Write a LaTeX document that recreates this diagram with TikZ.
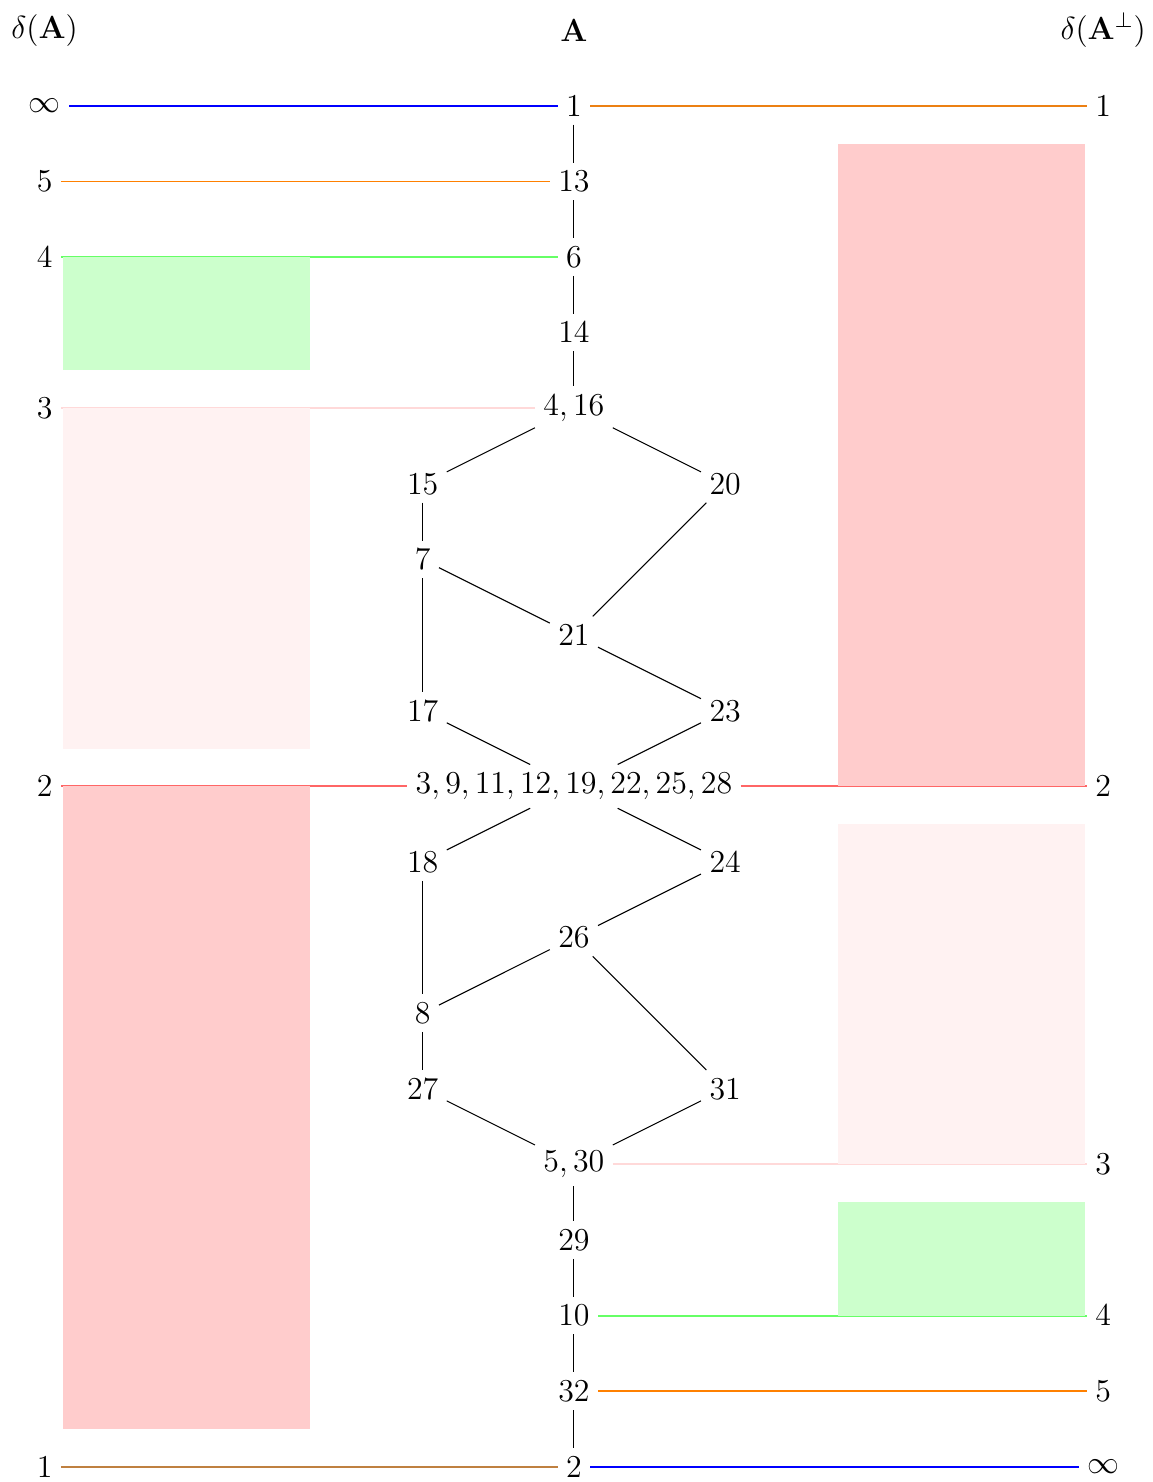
\documentclass[tikz,border=0pt]{standalone}
\usepackage{amsmath,amssymb}
\usepackage{xcolor}
\usepackage{tikz}
\usetikzlibrary{positioning}

\begin{document}
\begin{tikzpicture}[
    elem/.style={font=\large, inner sep=3pt},
    deg/.style={font=\large, inner sep=3pt},
    edge/.style={draw=black, thin},
    link/.style={draw=#1, line width=0.7pt}
]
    \useasboundingbox (-7.59,-0.2) rectangle (7.65,19.4);

    % Headers
    \node [deg] (hleft) at (-7,19) {$\delta(\mathbf{A})$};
    \node [deg] (hmid) at (0,19) {$\mathbf{A}$};
    \node [deg] (hright) at (7,19) {$\delta(\mathbf{A}^{\perp})$};

    % Lattice of A
    \node [elem] (n1) at (0,18) {$1$};
    \node [elem] (n13) at (0,17) {$13$};
    \node [elem] (n6) at (0,16) {$6$};
    \node [elem] (n14) at (0,15) {$14$};
    \node [elem] (n416) at (0,14) {$4,16$};
    \node [elem] (n15) at (-2,13) {$15$};
    \node [elem] (n20) at (2,13) {$20$};
    \node [elem] (n7) at (-2,12) {$7$};
    \node [elem] (n21) at (0,11) {$21$};
    \node [elem] (n17) at (-2,10) {$17$};
    \node [elem] (n23) at (2,10) {$23$};
    \node [elem] (nmid) at (0,9) {$3,9,11,12,19,22,25,28$};
    \node [elem] (n18) at (-2,8) {$18$};
    \node [elem] (n24) at (2,8) {$24$};
    \node [elem] (n26) at (0,7) {$26$};
    \node [elem] (n8) at (-2,6) {$8$};
    \node [elem] (n27) at (-2,5) {$27$};
    \node [elem] (n31) at (2,5) {$31$};
    \node [elem] (n530) at (0,4) {$5,30$};
    \node [elem] (n29) at (0,3) {$29$};
    \node [elem] (n10) at (0,2) {$10$};
    \node [elem] (n32) at (0,1) {$32$};
    \node [elem] (n2) at (0,0) {$2$};

    % Degrees of A
    \node [deg] (dlinf) at (-7,18) {$\infty$};
    \node [deg] (dl5) at (-7,17) {$5$};
    \node [deg] (dl4) at (-7,16) {$4$};
    \node [deg] (dl3) at (-7,14) {$3$};
    \node [deg] (dl2) at (-7,9) {$2$};
    \node [deg] (dl1) at (-7,0) {$1$};

    % Degrees of the dual
    \node [deg] (dr1) at (7,18) {$1$};
    \node [deg] (dr2) at (7,9) {$2$};
    \node [deg] (dr3) at (7,4) {$3$};
    \node [deg] (dr4) at (7,2) {$4$};
    \node [deg] (dr5) at (7,1) {$5$};
    \node [deg] (drinf) at (7,0) {$\infty$};

    % Levels
    \path [link=blue] (dlinf) -- (n1);
    \path [link=orange] (dl5) -- (n13);
    \path [link=green!60] (dl4) -- (n6);
    \path [link=red!15] (dl3) -- (n416);
    \path [link=red!60] (dl2) -- (nmid);
    \path [link=brown] (dl1) -- (n2);

    \path [link=orange!70!brown] (n1) -- (dr1);
    \path [link=red!60] (nmid) -- (dr2);
    \path [link=red!15] (n530) -- (dr3);
    \path [link=green!60] (n10) -- (dr4);
    \path [link=orange] (n32) -- (dr5);
    \path [link=blue] (n2) -- (drinf);

    % Bands
    \fill [green!20] (-6.76,16) rectangle (-3.49,14.5);
    \fill [red!5] (-6.76,14) rectangle (-3.49,9.5);
    \fill [red!20] (-6.76,9) rectangle (-3.49,0.5);

    \fill [red!20] (3.49,17.5) rectangle (6.76,9);
    \fill [red!5] (3.49,8.5) rectangle (6.76,4);
    \fill [green!20] (3.49,3.5) rectangle (6.76,2);

    % Hasse diagram
    \path [edge] (n1) -- (n13);
    \path [edge] (n13) -- (n6);
    \path [edge] (n6) -- (n14);
    \path [edge] (n14) -- (n416);
    \path [edge] (n416) -- (n15);
    \path [edge] (n416) -- (n20);
    \path [edge] (n15) -- (n7);
    \path [edge] (n7) -- (n21);
    \path [edge] (n7) -- (n17);
    \path [edge] (n20) -- (n21);
    \path [edge] (n21) -- (n23);
    \path [edge] (n17) -- (nmid);
    \path [edge] (n23) -- (nmid);
    \path [edge] (nmid) -- (n18);
    \path [edge] (nmid) -- (n24);
    \path [edge] (n18) -- (n8);
    \path [edge] (n24) -- (n26);
    \path [edge] (n26) -- (n8);
    \path [edge] (n26) -- (n31);
    \path [edge] (n8) -- (n27);
    \path [edge] (n27) -- (n530);
    \path [edge] (n31) -- (n530);
    \path [edge] (n530) -- (n29);
    \path [edge] (n29) -- (n10);
    \path [edge] (n10) -- (n32);
    \path [edge] (n32) -- (n2);
\end{tikzpicture}
\end{document}
